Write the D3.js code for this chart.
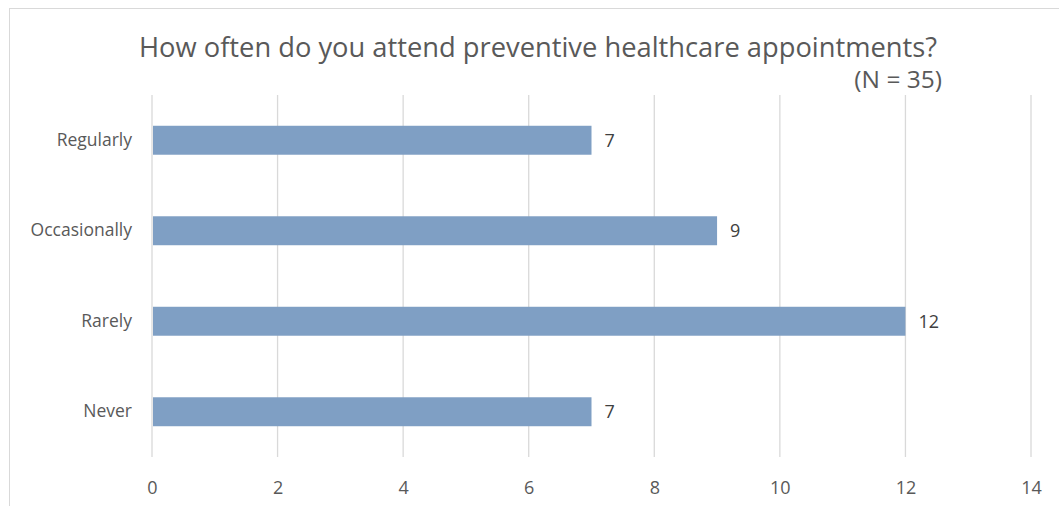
<!DOCTYPE html>
<html>
<head>
<meta charset="utf-8">
<script src="https://cdn.jsdelivr.net/npm/d3@7"></script>
<style>
  body { margin: 0; background: #fff; }
  svg { display: block; font-family: "Open Sans", sans-serif; }
</style>
</head>
<body>
<div class="vis-barchart"></div>
<script>
const categories = ["Regularly", "Occasionally", "Rarely", "Never"];
const counts = [7, 9, 12, 7];
const xTicks = [0, 2, 4, 6, 8, 10, 12, 14];
const title = "How often do you attend preventive healthcare appointments?";
const subtitle = "(N = 35)";

const width = 1059, height = 506;
const margin = { top: 95, right: 28, bottom: 49, left: 152 };

const svg = d3.select(".vis-barchart").append("svg")
    .attr("width", width)
    .attr("height", height);

// chart frame
svg.append("rect")
    .attr("x", 9.5).attr("y", 8.5)
    .attr("width", 1060).attr("height", 520)
    .attr("fill", "none")
    .attr("stroke", "#d9d9d9");

const x = d3.scaleLinear().domain([0, 14]).range([margin.left, width - margin.right]);
const y = d3.scaleBand().domain(categories)
    .range([margin.top, height - margin.bottom])
    .paddingInner(0.68).paddingOuter(0.34);

// gridlines
svg.append("g")
    .selectAll("line")
    .data(xTicks)
    .join("line")
    .attr("x1", d => x(d)).attr("x2", d => x(d))
    .attr("y1", margin.top).attr("y2", height - margin.bottom)
    .attr("stroke", "#d9d9d9")
    .attr("stroke-width", 1.3);

// bars
svg.append("g")
    .selectAll("rect")
    .data(counts)
    .join("rect")
    .attr("x", x(0) + 1)
    .attr("y", (d, i) => y(categories[i]))
    .attr("width", d => x(d) - x(0) - 1)
    .attr("height", y.bandwidth())
    .attr("fill", "#7f9fc4");

// value labels
svg.append("g")
    .selectAll("text")
    .data(counts)
    .join("text")
    .attr("x", d => x(d) + 13)
    .attr("y", (d, i) => y(categories[i]) + y.bandwidth() / 2)
    .attr("dy", "0.35em")
    .attr("font-size", 18)
    .attr("fill", "#404040")
    .text(d => d);

// x axis
const xAxis = svg.append("g")
    .attr("transform", "translate(0," + (height - margin.bottom) + ")")
    .call(d3.axisBottom(x).tickValues(xTicks).tickSize(0).tickPadding(24));
xAxis.select(".domain").remove();
xAxis.selectAll("text")
    .attr("font-size", 18)
    .attr("font-family", "Open Sans, sans-serif")
    .attr("fill", "#595959");

// y axis
const yAxis = svg.append("g")
    .attr("transform", "translate(" + margin.left + ",0)")
    .call(d3.axisLeft(y).tickSize(0).tickPadding(20));
yAxis.select(".domain").remove();
yAxis.selectAll("text")
    .attr("font-size", 17.5)
    .attr("font-family", "Open Sans, sans-serif")
    .attr("fill", "#595959");

// title
svg.append("text")
    .attr("x", 538).attr("y", 57)
    .attr("text-anchor", "middle")
    .attr("font-size", 27.3)
    .attr("fill", "#595959")
    .text(title);

svg.append("text")
    .attr("x", 942).attr("y", 88)
    .attr("text-anchor", "end")
    .attr("font-size", 24.5)
    .attr("fill", "#595959")
    .text(subtitle);
</script>
</body>
</html>
